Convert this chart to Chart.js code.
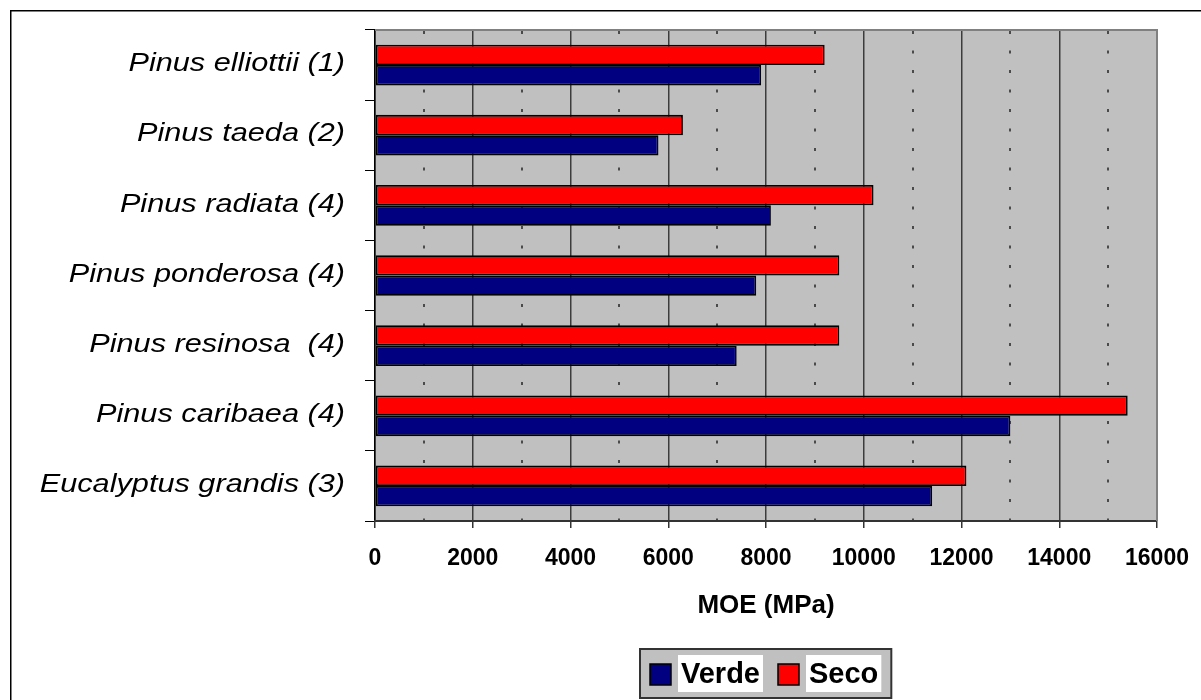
<!DOCTYPE html>
<html>
<head>
<meta charset="utf-8">
<title>MOE (MPa)</title>
<script src="https://cdn.jsdelivr.net/npm/chart.js@4.4.1/dist/chart.umd.min.js"></script>
<style>
  html, body { margin: 0; padding: 0; background: #ffffff; }
  canvas { display: block; }
</style>
</head>
<body>
<canvas id="moe" width="1201" height="700"></canvas>
<script>
// Species (number = reference source)
const species = [
  'Pinus elliottii (1)',
  'Pinus taeda (2)',
  'Pinus radiata (4)',
  'Pinus ponderosa (4)',
  'Pinus resinosa  (4)',
  'Pinus caribaea (4)',
  'Eucalyptus grandis (3)'
];
// Modulus of elasticity, MPa
const verde = [7900, 5800, 8100, 7800, 7400, 13000, 11400];
const seco  = [9200, 6300, 10200, 9500, 9500, 15400, 12100];
// Axis
const xMin = 0, xMax = 16000, minorStep = 1000, labelStep = 2000;
const axisTitle = 'MOE (MPa)';
const legendOrder = ['Verde', 'Seco'];

const FONT = '"Liberation Sans", Arial, Helvetica, sans-serif';
Chart.defaults.font.family = FONT;
Chart.defaults.color = '#000';

const isMinor = c => c.tick !== undefined && c.tick.value % labelStep !== 0;

const decor = {
  id: 'decor',
  beforeDraw(chart) {
    const { ctx, chartArea: a } = chart;
    ctx.save();
    ctx.fillStyle = '#ffffff';
    ctx.fillRect(0, 0, chart.width, chart.height);
    ctx.fillStyle = '#C0C0C0';
    ctx.fillRect(a.left, a.top, a.right - a.left, a.bottom - a.top);
    ctx.restore();
  },
  afterDraw(chart) {
    const { ctx, chartArea: a } = chart;
    const yScale = chart.scales.y;
    ctx.save();

    // plot frame: top and right edges
    ctx.strokeStyle = '#808080';
    ctx.lineWidth = 2;
    ctx.beginPath();
    ctx.moveTo(a.left, a.top);
    ctx.lineTo(a.right, a.top);
    ctx.lineTo(a.right, a.bottom);
    ctx.stroke();

    // outer frame
    ctx.strokeStyle = '#000';
    ctx.lineWidth = 1.5;
    ctx.beginPath();
    ctx.moveTo(10.75, chart.height);
    ctx.lineTo(10.75, 10.75);
    ctx.lineTo(chart.width, 10.75);
    ctx.stroke();

    // category labels (italic, widened)
    ctx.fillStyle = '#000';
    ctx.font = 'italic 26px ' + FONT;
    ctx.textAlign = 'right';
    ctx.textBaseline = 'middle';
    const labelRight = a.left - 30;
    species.forEach((name, i) => {
      const y = yScale.getPixelForValue(i);
      ctx.save();
      ctx.translate(labelRight, y - 1);
      ctx.scale(1.18, 1);
      ctx.fillText(name, 0, 0);
      ctx.restore();
    });

    // legend box
    ctx.font = 'bold 29px ' + FONT;
    const items = legendOrder.map(lbl => {
      const ds = chart.data.datasets.find(d => d.label === lbl);
      return { text: lbl, color: ds.backgroundColor, w: ctx.measureText(lbl).width };
    });
    const sw = 21, gap = 7, pad = 3, between = 15, edge = 10, bh = 49;
    let total = edge * 2 + between * (items.length - 1);
    items.forEach(it => { total += sw + gap + pad * 2 + it.w; });
    const cx = (a.left + a.right) / 2;
    const bx = Math.round(cx - total / 2);
    const by = chart.height - bh - 2;
    ctx.fillStyle = '#C0C0C0';
    ctx.fillRect(bx, by, total, bh);
    ctx.strokeStyle = '#333';
    ctx.lineWidth = 2;
    ctx.strokeRect(bx, by, total, bh);
    let x = bx + edge;
    const midY = by + bh / 2;
    items.forEach(it => {
      ctx.fillStyle = it.color;
      ctx.fillRect(x, midY - sw / 2 + 1, sw, sw);
      ctx.strokeStyle = '#000';
      ctx.lineWidth = 1.5;
      ctx.strokeRect(x, midY - sw / 2 + 1, sw, sw);
      x += sw + gap;
      ctx.fillStyle = '#ffffff';
      ctx.fillRect(x, by + 6, it.w + pad * 2, bh - 12);
      ctx.fillStyle = '#000';
      ctx.textAlign = 'left';
      ctx.textBaseline = 'middle';
      ctx.fillText(it.text, x + pad, midY + 1);
      x += it.w + pad * 2 + between;
    });
    ctx.restore();
  }
};

new Chart(document.getElementById('moe'), {
  type: 'bar',
  data: {
    labels: species,
    datasets: [
      { label: 'Seco', data: seco, backgroundColor: '#FF0000' },
      { label: 'Verde', data: verde, backgroundColor: '#000080' }
    ]
  },
  options: {
    indexAxis: 'y',
    responsive: false,
    animation: false,
    devicePixelRatio: 1,
    layout: { padding: { left: 0, top: 30, right: 44, bottom: 0 } },
    datasets: {
      bar: {
        borderColor: '#000',
        borderWidth: 1.8,
        borderSkipped: false,
        categoryPercentage: 0.58,
        barPercentage: 1
      }
    },
    plugins: {
      legend: { display: false },
      tooltip: { enabled: false }
    },
    scales: {
      y: {
        grid: {
          offset: true,
          drawOnChartArea: false,
          tickLength: 10,
          color: '#000',
          lineWidth: 1
        },
        border: { color: '#000', width: 1.5 },
        ticks: { display: false },
        afterFit(s) { s.width = 375; }
      },
      x: {
        min: xMin,
        max: xMax,
        ticks: {
          stepSize: minorStep,
          autoSkip: false,
          maxRotation: 0,
          padding: 17,
          color: '#000',
          font: { size: 23, weight: 'bold' },
          callback: v => (v % labelStep === 0 ? String(v) : '')
        },
        grid: {
          color: c => (isMinor(c) ? '#4a4a4a' : '#3c3c3c'),
          lineWidth: c => (isMinor(c) ? 2 : 1.5),
          tickLength: 7,
          tickColor: c => (isMinor(c) ? 'rgba(0,0,0,0)' : '#333'),
          tickWidth: 1.5
        },
        border: {
          color: '#333',
          width: 2,
          dash: c => (isMinor(c) ? [3, 16.5] : []),
          dashOffset: -1
        },
        title: {
          display: true,
          text: axisTitle,
          color: '#000',
          font: { size: 26, weight: 'bold' },
          padding: { top: 0, bottom: 79 }
        },
        afterFit(s) {
          s.height = 179;
          s.paddingLeft = 0;
          s.paddingRight = 0;
        }
      }
    }
  },
  plugins: [decor]
});
</script>
</body>
</html>
